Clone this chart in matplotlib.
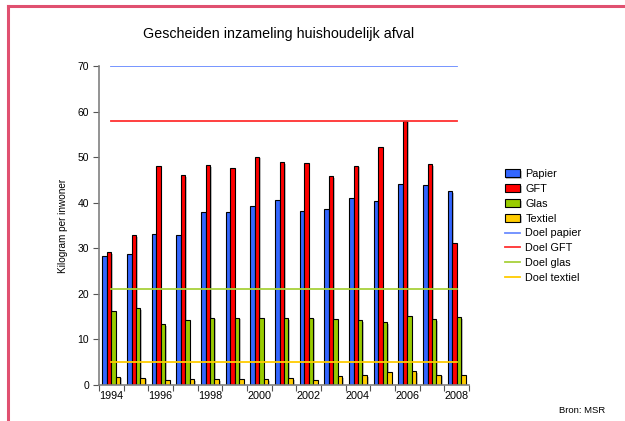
import numpy as np
import matplotlib.pyplot as plt
import matplotlib.patheffects as pe
from matplotlib.lines import Line2D

plt.rcParams['font.family'] = ['Liberation Sans', 'DejaVu Sans']

years = list(range(1994, 2009))
papier = [28.2, 28.7, 33.1, 33.0, 37.9, 37.9, 39.2, 40.6, 38.1, 38.6, 41.0, 40.3, 44.0, 43.8, 42.6]
gft = [29.1, 32.9, 48.1, 46.0, 48.2, 47.6, 50.1, 48.9, 48.7, 45.8, 48.1, 52.2, 58.0, 48.5, 31.1]
glas = [16.3, 16.8, 13.4, 14.3, 14.8, 14.8, 14.7, 14.6, 14.8, 14.4, 14.2, 13.8, 15.1, 14.4, 14.9]
textiel = [1.8, 1.6, 1.1, 1.25, 1.3, 1.35, 1.25, 1.5, 1.1, 1.9, 2.2, 2.9, 3.1, 2.3, 2.3]
doel_papier = 70
doel_gft = 58
doel_glas = 21
doel_textiel = 5

series = [("Papier", papier, "#3366ff"), ("GFT", gft, "#ff0000"),
          ("Glas", glas, "#99cc00"), ("Textiel", textiel, "#ffcc00")]
doelen = [("Doel papier", doel_papier, "#6b8cff"), ("Doel GFT", doel_gft, "#ff3030"),
          ("Doel glas", doel_glas, "#a8d13a"), ("Doel textiel", doel_textiel, "#ffcc00")]

fig = plt.figure(figsize=(6.25, 4.21), dpi=100)
ax = fig.add_axes([0.1584, 0.0855, 0.592, 0.7577])

x = np.arange(len(years))
w = 0.18
shadow = [pe.SimplePatchShadow(offset=(1.2, -1.2), shadow_rgbFace='#999999', alpha=0.6), pe.Normal()]
handles = []
for i, (name, vals, col) in enumerate(series):
    bars = ax.bar(x + (i - 1.5) * w, vals, w, color=col, edgecolor='black', linewidth=0.8,
                  label=name, zorder=2)
    for b in bars:
        b.set_path_effects(shadow)
    handles.append(bars)

for name, val, col in doelen:
    ln, = ax.plot([x[0], x[-1]], [val, val], color=col, linewidth=1.3, label=name, zorder=3)
    handles.append(ln)

ax.set_xlim(-0.5, len(years) - 0.5)
ax.set_ylim(0, 70)
ax.set_yticks(range(0, 71, 10))
ax.set_xticks(x[::2])
ax.set_xticklabels([str(y) for y in years[::2]])
ax.set_xticks(np.arange(-0.5, len(years), 1), minor=True)
ax.tick_params(axis='x', which='major', length=0, pad=4, labelsize=7.8)
ax.tick_params(axis='x', which='minor', length=4, width=0.8, color='#555555')
ax.tick_params(axis='y', length=4, width=0.8, color='#555555', labelsize=7.5, pad=3)
for s in ['top', 'right']:
    ax.spines[s].set_visible(False)
for s in ['left', 'bottom']:
    ax.spines[s].set_color('#808080')
    ax.spines[s].set_linewidth(1.2)

ax.set_ylabel("Kilogram per inwoner", fontsize=7.2, labelpad=7)

fig.text(0.445, 0.92, "Gescheiden inzameling huishoudelijk afval",
         ha='center', va='center', fontsize=10.3)
fig.text(0.968, 0.025, "Bron: MSR", ha='right', va='center', fontsize=6.8)

leg = fig.legend(handles=handles, labels=[h.get_label() for h in handles],
                 loc='upper left', bbox_to_anchor=(0.792, 0.622), frameon=False,
                 fontsize=7.8, handlelength=1.4, handleheight=0.7, labelspacing=0.45,
                 handletextpad=0.5)

fig.add_artist(Line2D([0.0125, 0.0125], [0, 0.985], color='#e05070', linewidth=2.2,
                      transform=fig.transFigure))
fig.add_artist(Line2D([0.0125, 1.0], [0.985, 0.985], color='#e05070', linewidth=2.2,
                      transform=fig.transFigure))

fig.savefig("out.png", dpi=100)
